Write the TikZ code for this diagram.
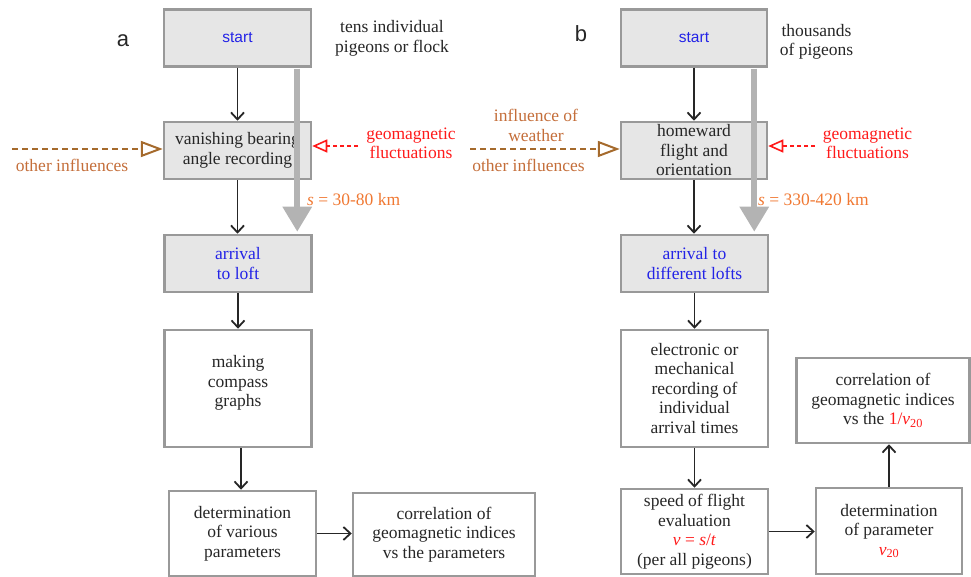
\documentclass[tikz,border=0pt]{standalone}
\usepackage{fontspec}
\setmainfont{Liberation Serif}
\setsansfont{Liberation Sans}
\usetikzlibrary{arrows.meta,calc}
\definecolor{boxgray}{HTML}{E6E6E6}
\definecolor{bordergray}{HTML}{999999}
\definecolor{txt}{HTML}{262626}
\definecolor{bluetxt}{RGB}{35,35,230}
\definecolor{redtxt}{HTML}{FF1A1A}
\definecolor{orangetxt}{HTML}{F07832}
\definecolor{browntxt}{HTML}{C46E3A}
\definecolor{brownarrow}{HTML}{A56A2C}
\definecolor{thickgray}{HTML}{B3B3B3}
\begin{document}
\begin{tikzpicture}[x=1pt,y=-1pt,
  box/.style={draw=bordergray, line width=2.5pt, inner sep=0pt, align=center,
    font=\rmfamily\fontsize{17.5}{19.5}\selectfont, text=txt},
  graybox/.style={box, fill=boxgray},
  lbl/.style={inner sep=0pt, align=center, font=\rmfamily\fontsize{17.5}{19.5}\selectfont, text=txt},
  flow/.style={draw=txt, line width=1.8pt, -{Straight Barb[length=7pt,width=13pt]}},
  bigarrow/.style={draw=thickgray, line width=6pt, -{Triangle[length=25pt,width=28pt]}},
  brownarr/.style={draw=brownarrow, line width=2pt, dash pattern=on 6pt off 4pt,
    -{Triangle[open,length=22pt,width=16pt]}},
  redarr/.style={draw=redtxt, line width=1.6pt, dash pattern=on 4pt off 3pt,
    -{Triangle[open,length=15pt,width=13pt]}}
]
\useasboundingbox (0,0) rectangle (971,577);

% ---------- part a ----------
\node[graybox, minimum width=147pt, minimum height=57pt] (startA) at (237.5,38) {\sffamily\fontsize{15.5}{18}\selectfont\color{bluetxt}start};
\node[graybox, minimum width=147pt, minimum height=57pt] (vanA) at (237.5,150.5) {vanishing bearing\\angle recording};
\node[graybox, minimum width=147pt, minimum height=57pt, text=bluetxt] (arrA) at (238,263.5) {arrival\\to loft};
\node[box, minimum width=147pt, minimum height=117pt] (makeA) at (238,388.5) {};
\node[lbl] (makeAt) at (238,383) {making\\compass\\graphs};
\node[box, minimum width=147pt, minimum height=85pt] (detA) at (242.5,533.5) {determination\\of various\\parameters};
\node[box, minimum width=182pt, minimum height=83pt] (corA) at (444,534.5) {correlation of\\geomagnetic indices\\vs the parameters};

\node[font=\sffamily\fontsize{22}{24}\selectfont, text=txt, inner sep=0pt] (labA) at (123,41) {a};
\node[lbl] (tensA) at (392,38.5) {tens individual\\pigeons or flock};
\node[lbl, text=redtxt] (geoA) at (411,143.5) {geomagnetic\\fluctuations};
\node[lbl, text=browntxt] (othA) at (72,165) {other influences};
\node[lbl, text=orangetxt, anchor=west] (sA) at (307,200) {\textit{s} = 30-80 km};

\draw[flow] (startA) -- (vanA);
\draw[flow] (vanA) -- (vanA.south |- arrA.north);
\draw[flow] (arrA) -- (makeA);
\coordinate (mA) at ($(makeA.south)+(3,0)$);
\draw[flow] (mA) -- (mA |- detA.north);
\draw[flow] (detA.east) -- (detA.east -| corA.west);

\coordinate (oA) at (12,149);
\draw[brownarr] (oA) -- (oA -| vanA.west);
\coordinate (gA) at (358,146);
\draw[redarr] (gA) -- (gA -| vanA.east);

\draw[bigarrow] ($(startA.south east)+(-15,1)$) -- ($(arrA.north east)+(-15.5,-2)$);

% ---------- part b ----------
\node[graybox, minimum width=146pt, minimum height=57pt] (startB) at (694,38) {\sffamily\fontsize{15.5}{18}\selectfont\color{bluetxt}start};
\node[graybox, minimum width=146pt, minimum height=57pt] (homeB) at (694,150.5) {homeward\\flight and\\orientation};
\node[graybox, minimum width=147pt, minimum height=57pt, text=bluetxt] (arrB) at (694.5,263.5) {arrival to\\different lofts};
\node[box, minimum width=147pt, minimum height=117pt] (elecB) at (694.5,388.5) {electronic or\\mechanical\\recording of\\individual\\arrival times};
\node[box, minimum width=147pt, minimum height=85pt] (speedB) at (694.5,531.5) {speed of flight\\evaluation\\{\color{redtxt}\textit{v} = \textit{s}/\textit{t}}\\(per all pigeons)};
\node[box, minimum width=146pt, minimum height=86pt] (detB) at (889,531) {determination\\of parameter\\{\color{redtxt}\textit{v}\textsubscript{20}}};
\node[box, minimum width=173pt, minimum height=85pt] (corB) at (883,400.5) {correlation of\\geomagnetic indices\\vs the {\color{redtxt}1/\textit{v}\textsubscript{20}}};

\node[font=\sffamily\fontsize{22}{24}\selectfont, text=txt, inner sep=0pt] (labB) at (581,34) {b};
\node[lbl] (thouB) at (816.5,42) {thousands\\of pigeons};
\node[lbl, text=redtxt] (geoB) at (867.5,143.5) {geomagnetic\\fluctuations};
\node[lbl, text=browntxt] (weaB) at (536,125.5) {influence of\\weather};
\node[lbl, text=browntxt] (othB) at (528.5,165) {other influences};
\node[lbl, text=orangetxt, anchor=west] (sB) at (758,200) {\textit{s} = 330-420 km};

\draw[flow] (startB) -- (homeB);
\draw[flow] (homeB) -- (homeB.south |- arrB.north);
\draw[flow] (arrB) -- (elecB);
\draw[flow] (elecB) -- (speedB);
\draw[flow] (speedB.east) -- (speedB.east -| detB.west);
\draw[flow] (detB.north) -- (detB.north |- corB.south);

\coordinate (oB) at (470,149);
\draw[brownarr] (oB) -- (oB -| homeB.west);
\coordinate (gB) at (815,146);
\draw[redarr] (gB) -- (gB -| homeB.east);

\draw[bigarrow] ($(startB.south east)+(-14,1)$) -- ($(arrB.north east)+(-15,-2)$);
\end{tikzpicture}
\end{document}
